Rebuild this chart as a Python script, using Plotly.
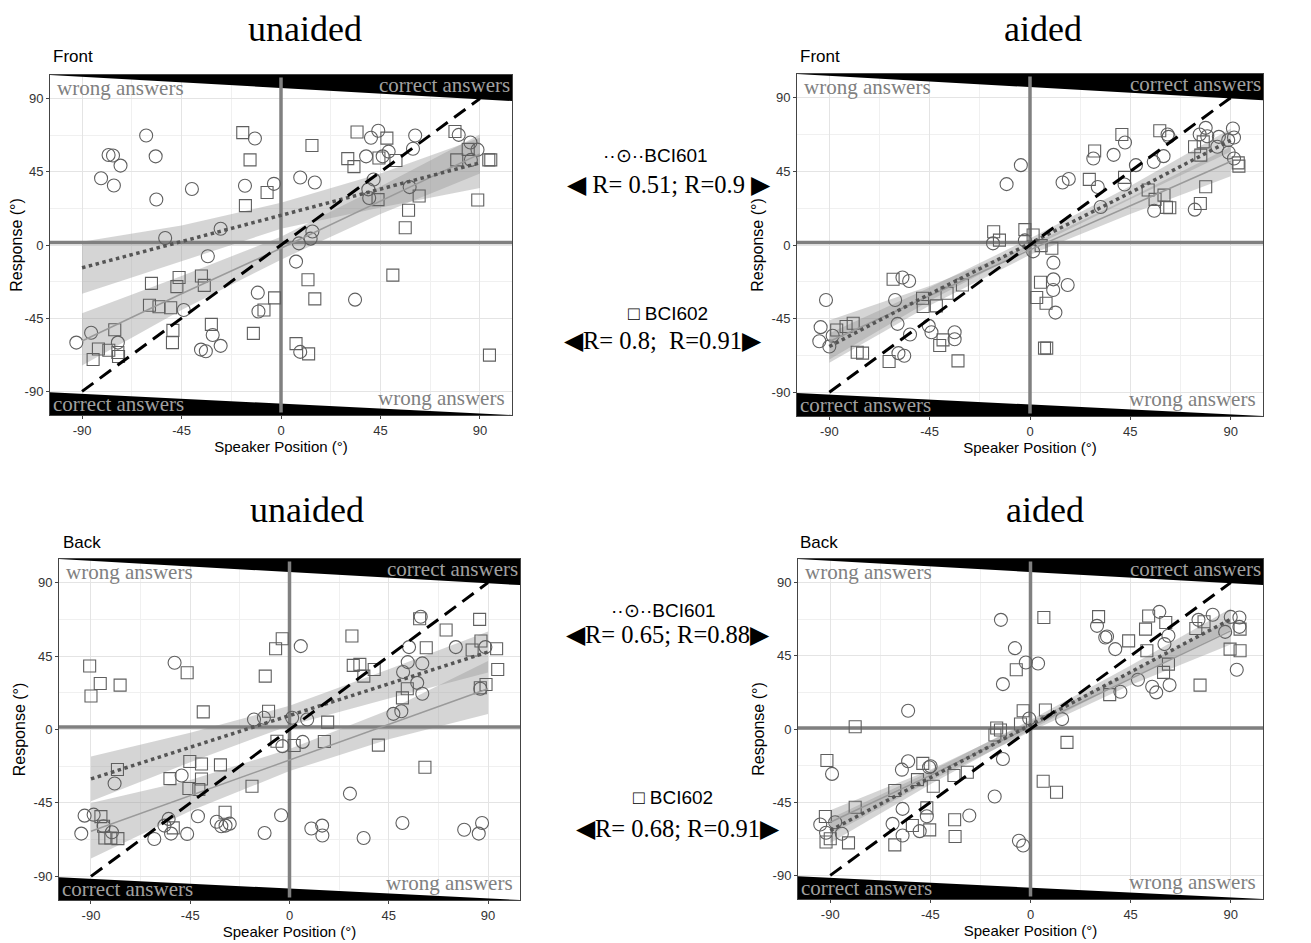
import plotly.graph_objects as go

# ---------------- data ----------------
fit_x = [-90, -45, 0, 45, 90]
diag = [-90, 90]

# Panel 1: unaided / Front
p1_c_x = [-92.6,-85.9,-81.4,-78,-76,-75.6,-72.6,-73.8,-61,-56.7,-56.4,-40.3,-52.4,-44,-36.2,-34,-33.1,-30.9,-27.3,-27.3,-16.3,-11.8,-10.5,-10.2,-3.2,6.8,8.1,8.7,8.7,13.4,14.2,15.3,33.5,38.5,39.5,39.9,40.7,41.9,44,46,48.7,58.2,59.7,60.7,80.4,85.7,85.9,88.9]
p1_c_y = [-60,-53.9,41,55.3,55,36.6,48.8,-60,67.3,54.5,28,34.4,4.3,-40,-64.3,-65.3,-6.9,-55.3,-62,10,36.4,65.5,-29.3,-40.9,37.6,-10.2,1,41.5,-65.7,3.9,8.3,38.4,-33.6,54.5,34.2,28.9,65.9,40.3,70.2,54.5,57.4,35.6,59.2,67.3,67.7,63,52.3,58.6]
p1_s_x = [-85,-82.6,-77.9,-75.2,-73.8,-73.5,-58.6,-59.5,-55.2,-49.9,-48.9,-49.1,-47.1,-46.1,-36,-34.7,-31.5,-17.3,-16.1,-14,-12.5,-7.7,-6.3,-2.9,6.8,12.2,12.5,14,15.3,30.2,33,34.4,43.9,44.3,47.9,50.6,52,56.2,57.7,62.5,78.7,79.5,84.7,89,94,94.3,94.9]
p1_s_y = [-70.4,-63.9,-64.7,-52.1,-66.1,-68.5,-23.6,-37,-38,-38.6,-52.5,-60,-25.6,-20,-19.1,-24.8,-48.8,69.1,24.2,52.3,-54.3,-40,32.3,-32.5,-60.6,-21.4,-66.9,61.2,-33.1,53.1,48.2,69.5,27.9,53.5,65.7,-18.5,51.9,10.6,21.4,30.1,69.8,52.3,58.8,27.7,52.3,-67.7,52.3]
p1_fit601 = [-14, 2, 18, 34, 50.5]
p1_lo601 = [-30, -10, 10, 23, 35]
p1_hi601 = [2, 12, 26, 44, 66]
p1_fit602 = [-59, -30, -2, 27, 56]
p1_lo602 = [-74, -40, -9, 19, 44]
p1_hi602 = [-42, -19, 5, 36, 68]

# Panel 2: aided / Front
p2_c_x = [-91.5,-93.9,-94.5,-90,-88.5,-60.5,-59.4,-59,-57.2,-56.4,-54.2,-53.8,-45.4,-44.2,-33.8,-33.8,-16.6,-10.5,-4.1,-2.3,1.4,10.5,10.5,10.4,11.4,16.9,14.6,17.4,28.4,30.4,31.7,37.5,42.4,42.6,47.5,55.5,55.7,59.9,61.7,62.2,73.9,76.1,78.8,79.5,84,84.7,88.9,89.1,91,91.5,91.5]
p2_c_y = [-33.6,-50.2,-58.8,-62,-55.5,-33.6,-48.2,-66.1,-19.9,-67.7,-22,-54.7,-49.4,-53.3,-53.3,-57.6,1,37.2,48.8,2.8,-3.9,-10.8,-21,-27.5,-41.3,-24.4,38.2,40.3,52.9,35.4,23.2,55.1,37,62.6,48.8,50.8,20.9,54.3,67.5,66.1,21.6,67.5,71.6,66.5,60,66.1,64.1,56.5,71.2,65.7,52.9]
p2_s_x = [-86.7,-82.5,-79.3,-77.5,-75.1,-63.2,-61.4,-48.2,-47.9,-42,-40.5,-39,-37.2,-32.3,-30.3,-16.3,-13.7,-2.3,1.4,3,4.7,5,6.5,7.5,7.2,9.8,26.6,29,41.2,42.4,53,56.1,58.2,60.1,61.2,62.7,73.8,76.4,76.6,77.7,78.8,93.4,93.7]
p2_s_y = [-51.9,-49.8,-47.8,-65.5,-66.1,-71.2,-20.9,-32.5,-37.6,-37.2,-61.4,-58,-29.5,-70.8,-24.4,8.1,3,9.4,6.1,-32.1,-22.8,-0.4,-63,-63,-35.6,-2,40.1,57.4,67.5,41.3,33.6,27.9,69.8,30.5,23,22.8,60,25.4,54.9,63,35.6,50.2,48.2]
p2_fit601 = [-62, -30, 1, 32, 64]
p2_lo601 = [-70, -34, -2, 28, 57]
p2_hi601 = [-54, -26, 4, 36, 71]
p2_fit602 = [-59, -31, -3, 24, 51]
p2_lo602 = [-72, -37, -6, 19, 42]
p2_hi602 = [-46, -25, 0, 29, 60]

# Panel 3: unaided / Back
p3_c_x = [-94.4,-92.9,-88.8,-84.3,-80.5,-79.3,-61.3,-56.7,-54.8,-53.7,-52.1,-48.9,-46.4,-41.5,-33,-30.9,-29,-27.1,-16.1,-11.6,-11.3,-3.8,-3.2,1.2,5.1,6,8,9.9,14.8,14.9,27.4,33.6,47.1,50.7,51.2,51.5,53.6,54.2,57.9,59.5,60.2,60.2,75.4,79.2,85.8,86.5,87.3,88.8]
p3_c_y = [-63.8,-52.8,-52.2,-59.3,-63,-33.1,-67.1,-58.9,-54.8,-63.8,40.9,-28.2,-64,-53.2,-56.5,-59.3,-58.9,-57.7,6.1,7.2,-63.4,-52.6,-10.2,7.2,51.1,-7.6,6.1,-60.7,-58.9,-65,-39.3,-66.5,9.6,11.2,-57.3,35.2,41.3,50.5,28.6,69.1,40.5,21.9,50.5,-61.4,-63.8,25,-57.3,50.5]
p3_s_x = [-90.6,-90,-85.8,-76.8,-85.5,-84.3,-83.7,-81,-77.8,-78,-54.2,-52.7,-46.4,-45.6,-45.2,-41.1,-39.9,-39.9,-39.1,-31.3,-29.2,-17,-11,-9.5,-6.3,-5.7,-3.3,2.1,15.8,17.3,28.3,28.9,31.9,33.7,38.4,40.3,51.2,53.4,59,61.4,62,71,82.8,86.2,86.5,89.1,86.8,93.9,94.4]
p3_s_y = [38.9,20.5,28.2,27.2,-53.4,-59.3,-66.5,-66.5,-66.9,-24.5,-30.1,-60.3,34.8,-36.2,-19.6,-36.8,-21.1,-30.3,10.8,-21.7,-50.7,-34.8,32.7,11.2,49.5,-7.2,55.6,-9.8,-7.4,4.5,57.3,39.3,39.9,32.7,36.8,-9.6,19.4,25,67.9,-23.1,50.1,61,48.7,67.5,25.6,27.6,54.2,49.5,36.8]
p3_fit601 = [-30.3, -11, 8.6, 28, 47.5]
p3_lo601 = [-44, -20, 2.5, 19, 35]
p3_hi601 = [-16.5, -2, 14.5, 37, 60]
p3_fit602 = [-62.4, -40.5, -18.7, 3, 25]
p3_lo602 = [-79, -50, -25.5, -6, 9.5]
p3_hi602 = [-45, -31, -12, 12, 42]

# Panel 4: aided / Back
p4_c_x = [-94.5,-91.9,-89.2,-87.8,-84.8,-62,-57.8,-57.5,-57.5,-55,-55,-49.8,-46.6,-45.6,-44.9,-27.5,-16.1,-13.3,-12.4,-12.4,-7,-5.2,-3.3,-2.1,-0.6,3.4,14.2,29.9,33.6,34.4,38.1,40.4,48.3,54.7,56.5,57.9,60.2,62,62.5,75.5,81.9,87.5,90,93.9,93.9,92.7]
p4_c_y = [-58.7,-63.8,-27.6,-57.3,-64.4,-58.3,-25,-49.1,-65.5,11.2,-19.8,-62.8,-53.6,-23.5,-22.9,-53.2,-41.5,67.1,27.6,-18.4,49.7,-68.7,-71.6,40.9,6.5,40.3,6.1,63.4,56.2,56.9,49.1,22.9,30.3,26,22.5,72,52.2,57.3,27,67.1,70.2,59.7,68.9,68.5,62.8,36.4]
p4_s_x = [-91.5,-92.2,-91.9,-90,-81.8,-78.8,-78.8,-61,-61,-53.1,-50.8,-48.4,-46.6,-45.3,-43.7,-34.4,-34.1,-33.9,-28.4,-16,-15.2,-13.5,-6.4,-4.5,-3.3,5.7,6,6.7,11.7,16.4,30.6,35.6,44.1,51.7,52.3,53.1,59.8,60.8,62,74.3,76.2,78,89.7,94.2,94.2]
p4_s_y = [-19.4,-53.8,-69.5,-67.5,-70,1.4,-48.1,-37.8,-71.2,-59.3,-31.1,-21.1,-48.5,-62,-35.2,-28.6,-55.8,-66.1,-26.6,-3.7,0.6,-0.6,36.4,3.1,11.2,-32.1,68.5,11.7,-38.9,-8.2,69.1,21.1,54.2,61.4,48.1,69.5,34.8,65.5,39.9,61.8,27,65.9,49.1,48.1,61.4]
p4_fit601 = [-62.4, -30, 2.5, 35, 67.5]
p4_lo601 = [-70, -34, -0.5, 31, 61]
p4_hi601 = [-55, -26, 5.5, 39, 74]
p4_fit602 = [-57.3, -28.5, 1.5, 31, 60.3]
p4_lo602 = [-65, -32, -1.5, 27, 52]
p4_hi602 = [-50, -25, 4.5, 35, 68]

tick_vals = [-90, -45, 0, 45, 90]
tick_text = ["-90", "-45", "0", "45", "90"]
minor_vals = [-67.5, -22.5, 22.5, 67.5]
axis_range = [-104.5, 104.5]
hline_y = [1.5, 1.5, 1.5, 0.6]

# wedge outlines (data units)
wedge_top_x = [-104.5, 104.5, 104.5]
wedge_top_y = [104.5, 104.5, 88.5]
wedge_bot_x = [-104.5, -104.5, 104.5]
wedge_bot_y = [-90.5, -104.5, -104.5]

panels = [
    dict(cx=p1_c_x, cy=p1_c_y, sx=p1_s_x, sy=p1_s_y, f1=p1_fit601, l1=p1_lo601, h1=p1_hi601, f2=p1_fit602, l2=p1_lo602, h2=p1_hi602),
    dict(cx=p2_c_x, cy=p2_c_y, sx=p2_s_x, sy=p2_s_y, f1=p2_fit601, l1=p2_lo601, h1=p2_hi601, f2=p2_fit602, l2=p2_lo602, h2=p2_hi602),
    dict(cx=p3_c_x, cy=p3_c_y, sx=p3_s_x, sy=p3_s_y, f1=p3_fit601, l1=p3_lo601, h1=p3_hi601, f2=p3_fit602, l2=p3_lo602, h2=p3_hi602),
    dict(cx=p4_c_x, cy=p4_c_y, sx=p4_s_x, sy=p4_s_y, f1=p4_fit601, l1=p4_lo601, h1=p4_hi601, f2=p4_fit602, l2=p4_lo602, h2=p4_hi602),
]

OFF = 8                      # default page margin of the html body
W, H = 1311 - OFF, 943 - OFF  # figure size
# plot-area pixel boxes in page pixels (left, right, top, bottom)
boxes = [(50, 512, 75, 415), (797, 1263, 74, 416), (59, 520, 559, 900), (798, 1263, 559, 899)]

def px(x):
    return (x - OFF) / W

def py(y):
    return 1 - (y - OFF) / H

SERIF = "Liberation Serif, Times New Roman, serif"
SANS = "Liberation Sans, Arial, sans-serif"
MK = "#5f5f5f"

fig = go.Figure()
for i, p in enumerate(panels):
    k = "" if i == 0 else str(i + 1)
    xa, ya = "x" + k, "y" + k
    # confidence bands
    for lo, hi in ((p["l2"], p["h2"]), (p["l1"], p["h1"])):
        fig.add_trace(go.Scatter(x=fit_x + fit_x[::-1], y=hi + lo[::-1], xaxis=xa, yaxis=ya,
                                 mode="lines", line=dict(width=0), fill="toself",
                                 fillcolor="rgba(150,150,150,0.40)", hoverinfo="skip"))
    # wedges
    fig.add_trace(go.Scatter(x=wedge_top_x, y=wedge_top_y, xaxis=xa, yaxis=ya, mode="lines",
                             line=dict(width=0), fill="toself", fillcolor="black", hoverinfo="skip"))
    fig.add_trace(go.Scatter(x=wedge_bot_x, y=wedge_bot_y, xaxis=xa, yaxis=ya, mode="lines",
                             line=dict(width=0), fill="toself", fillcolor="black", hoverinfo="skip"))
    # zero axes
    fig.add_trace(go.Scatter(x=axis_range, y=[hline_y[i]] * 2, xaxis=xa, yaxis=ya, mode="lines",
                             line=dict(color="#808080", width=3.5), hoverinfo="skip"))
    fig.add_trace(go.Scatter(x=[0, 0], y=[-103, 103], xaxis=xa, yaxis=ya, mode="lines",
                             line=dict(color="#808080", width=3.5), hoverinfo="skip"))
    # points
    fig.add_trace(go.Scatter(x=p["cx"], y=p["cy"], xaxis=xa, yaxis=ya, mode="markers",
                             marker=dict(symbol="circle-open", size=13, color=MK, line=dict(width=1.1, color=MK))))
    fig.add_trace(go.Scatter(x=p["sx"], y=p["sy"], xaxis=xa, yaxis=ya, mode="markers",
                             marker=dict(symbol="square-open", size=12, color=MK, line=dict(width=1.1, color=MK))))
    # fit lines
    fig.add_trace(go.Scatter(x=fit_x, y=p["f2"], xaxis=xa, yaxis=ya, mode="lines",
                             line=dict(color="#9a9a9a", width=1.5)))
    fig.add_trace(go.Scatter(x=fit_x, y=p["f1"], xaxis=xa, yaxis=ya, mode="lines",
                             line=dict(color="#555555", width=3.5, dash="dot")))
    # identity line
    fig.add_trace(go.Scatter(x=diag, y=diag, xaxis=xa, yaxis=ya, mode="lines",
                             line=dict(color="black", width=3, dash="14px,8px")))

layout = dict(width=W, height=H, margin=dict(l=0, r=0, t=0, b=0), showlegend=False,
              paper_bgcolor="white", plot_bgcolor="white", hovermode=False)
for i, (l, r, t, b) in enumerate(boxes):
    k = "" if i == 0 else str(i + 1)
    common = dict(range=axis_range, tickmode="array", tickvals=tick_vals, ticktext=tick_text,
                  showgrid=True, gridcolor="#e4e4e4", gridwidth=1, zeroline=False,
                  showline=True, mirror=True, linecolor="#444444", linewidth=1,
                  ticks="outside", ticklen=3, tickcolor="#444444",
                  tickfont=dict(family=SANS, size=13, color="#333333"),
                  minor=dict(tickmode="array", tickvals=minor_vals, showgrid=True,
                             gridcolor="#f0f0f0", gridwidth=0.8, ticks=""))
    layout["xaxis" + k] = dict(common, domain=[px(l), px(r)], anchor="y" + k,
                               title=dict(text="Speaker Position (°)", font=dict(family=SANS, size=15, color="black"), standoff=3))
    layout["yaxis" + k] = dict(common, domain=[py(b), py(t)], anchor="x" + k,
                               title=dict(text="Response (°)", font=dict(family=SANS, size=16, color="black"), standoff=4))
fig.update_layout(**layout)

ann = []
def A(text, x, y, size, family, color="black", xanchor="center", xref="paper", yref="paper", yanchor="middle"):
    ann.append(dict(text=text, x=x, y=y, xref=xref, yref=yref, xanchor=xanchor, yanchor=yanchor,
                    showarrow=False, borderpad=0, font=dict(size=size, family=family, color=color)))

# panel titles (anchored at the top of the figure)
for (cx, txt) in [(305, "unaided"), (1043, "aided")]:
    A(txt, px(cx), 1.0, 36, SERIF, yanchor="top")
for (cx, cy, txt) in [(307, 510, "unaided"), (1045, 510, "aided")]:
    A(txt, px(cx), py(cy), 36, SERIF)
for (lx, cy, txt) in [(52, 57, "Front"), (799, 57, "Front"), (62, 542, "Back"), (799, 542, "Back")]:
    A(txt, px(lx), py(cy), 17, SANS, xanchor="left")

# quadrant texts
for i in range(4):
    k = "" if i == 0 else str(i + 1)
    A("wrong answers", -102, 96.5, 21, SERIF, "#808080", "left", "x" + k, "y" + k)
    A("correct answers", 104, 98.5, 21, SERIF, "#a0a0a0", "right", "x" + k, "y" + k)
    A("correct answers", -103.5, -97.5, 21, SERIF, "#a0a0a0", "left", "x" + k, "y" + k)
    A("wrong answers", 102, -94, 21, SERIF, "#808080", "right", "x" + k, "y" + k)

# middle legend / correlation texts
A("··⊙··BCI601", px(655), py(155), 19, SANS)
A("◀ R= 0.51; R=0.9 ▶", px(669), py(184), 24.5, SERIF)
A("□ BCI602", px(668), py(313), 19, SANS)
A("◀R= 0.8;  R=0.91▶", px(663), py(340), 24.5, SERIF)
A("··⊙··BCI601", px(663), py(610), 19, SANS)
A("◀R= 0.65; R=0.88▶", px(668), py(634), 24.5, SERIF)
A("□ BCI602", px(673), py(797), 19, SANS)
A("◀R= 0.68; R=0.91▶", px(678), py(828), 24.5, SERIF)

fig.update_layout(annotations=ann)
fig.write_html("out.html")
